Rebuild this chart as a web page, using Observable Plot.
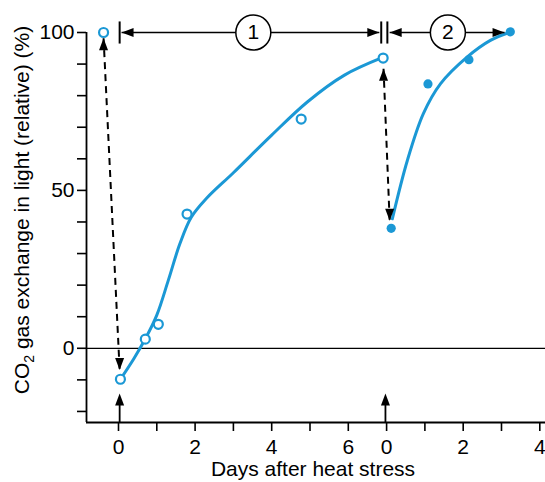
<!DOCTYPE html>
<html><head><meta charset="utf-8">
<script src="https://cdn.jsdelivr.net/npm/d3@7"></script>
<script src="https://cdn.jsdelivr.net/npm/@observablehq/plot@0.6"></script>
<style>
html,body{margin:0;padding:0;background:#fff;}
#chart{position:relative;width:545px;height:482px;overflow:hidden;}
</style></head><body><div id="chart"></div>
<script>
// ---- data (x: continuous day axis, phase 2 day d plotted at 7 + d) ----
const phase1X = [-0.39, 0.05, 0.70, 1.04, 1.79, 4.77, 6.91];
const phase1Y = [100, -9.8, 2.9, 7.6, 42.5, 72.6, 91.9];
const phase2X = [7.12, 8.08, 9.15, 10.23];
const phase2Y = [38, 83.7, 91.4, 100.2];
// fitted curves as drawn in the figure
const curve1X = [0.05, 0.4, 0.7, 1.0, 1.3, 1.6, 1.9, 2.3, 3.0, 4.0, 4.93, 5.9, 6.9];
const curve1Y = [-9.8, -3.3, 3, 10.5, 21.5, 33, 41.5, 47.5, 55.6, 67.5, 78, 86.5, 92.1];
const curve2X = [7.15, 7.54, 7.96, 8.41, 9.1, 9.71, 10.2];
const curve2Y = [41, 59.4, 74.3, 83.8, 92.2, 97.5, 100];
// ticks
const xTicks = [0,1,2,3,4,5,6,7,8,9,10,11];
const xTickLabels = ["0","","2","","4","","6","0","","2","","4"];
const yTicks = [-20,-10,0,10,20,30,40,50,60,70,80,90,100];
const yTickLabels = ["","","0","","","","","50","","","","","100"];
// annotations
const phaseNames = ["1","2"];
const phaseNameX = [3.52, 8.6];
const spanStart = [0.08, 7.08];
const spanEnd = [6.81, 10.08];
const spanY = 100;
const barX = [0.03, 6.86, 7.02];
const dashFromX = [-0.39, 6.92], dashFromY = [98.2, 88.5];
const dashToX = [0.03, 7.08], dashToY = [-6.9, 40.4];
const stressX = [0.03, 6.97];
const stressTipY = -14.3;
const xDomain = [-0.8355, 11.149];
const yDomain = [-23.5, 100];

const blue = "#1b98d5";
const mkHead = (rot) => ({draw(ctx){
  const pts = [[0,0],[-4.5,12],[4.5,12]].map(([x,y]) => {
    const a = rot*Math.PI/180;
    return [x*Math.cos(a) - y*Math.sin(a), x*Math.sin(a) + y*Math.cos(a)];
  });
  ctx.moveTo(pts[0][0],pts[0][1]); ctx.lineTo(pts[1][0],pts[1][1]); ctx.lineTo(pts[2][0],pts[2][1]); ctx.closePath();
}});
const headUp = mkHead(0), headDown = mkHead(180), headLeft = mkHead(-90), headRight = mkHead(90);

const xLab = new Map(xTicks.map((t,i)=>[t,xTickLabels[i]]));
const yLab = new Map(yTicks.map((t,i)=>[t,yTickLabels[i]]));
const idx = a => a.map((_,i)=>i);

const plot = Plot.plot({
  width: 545, height: 482,
  marginTop: 32, marginBottom: 60, marginLeft: 86, marginRight: 0,
  style: {fontFamily: "'Liberation Sans', Arial, sans-serif", fontSize: "21px", background: "white", overflow: "visible"},
  x: {domain: xDomain},
  y: {domain: yDomain},
  marks: [
    Plot.ruleY([0], {stroke: "black", strokeWidth: 1.2}),
    Plot.ruleY([yDomain[0]], {stroke: "black", strokeWidth: 1.8}),
    Plot.ruleX([xDomain[0]], {stroke: "black", strokeWidth: 1.8}),
    Plot.axisX({ticks: xTicks, tickFormat: d => xLab.get(d), tickSize: 9, tickPadding: 8, strokeWidth: 1.6, label: null, fill: "black"}),
    Plot.axisY({ticks: yTicks, tickFormat: d => yLab.get(d), tickSize: 9, tickPadding: 3, strokeWidth: 1.6, label: null, fill: "black"}),
    // fitted curves
    Plot.line(idx(curve1X), {x: i => curve1X[i], y: i => curve1Y[i], curve: "catmull-rom", stroke: blue, strokeWidth: 3}),
    Plot.line(idx(curve2X), {x: i => curve2X[i], y: i => curve2Y[i], curve: "catmull-rom", stroke: blue, strokeWidth: 3}),
    // dashed double arrows
    Plot.link(idx(dashFromX), {x1: i => dashFromX[i], y1: i => dashFromY[i], x2: i => dashToX[i], y2: i => dashToY[i], stroke: "black", strokeWidth: 2, strokeDasharray: "7,5"}),
    // heat stress arrows from axis
    Plot.link(idx(stressX), {x1: i => stressX[i], x2: i => stressX[i], y1: yDomain[0], y2: stressTipY - 3, stroke: "black", strokeWidth: 1.8}),
    // phase spans
    Plot.link(idx(spanStart), {x1: i => spanStart[i], x2: i => spanEnd[i], y1: spanY, y2: spanY, stroke: "black", strokeWidth: 1.6}),
    Plot.link(barX, {x1: d => d, x2: d => d, y1: spanY - 3.5, y2: spanY + 3.5, stroke: "black", strokeWidth: 2}),
    // arrowheads
    Plot.dot([...dashFromX.map((x,i)=>[x,dashFromY[i]]), ...stressX.map(x=>[x,stressTipY])], {x: d=>d[0], y: d=>d[1], symbol: headUp, fill: "black", stroke: "none", r: 5}),
    Plot.dot(dashToX.map((x,i)=>[x,dashToY[i]]), {x: d=>d[0], y: d=>d[1], symbol: headDown, fill: "black", stroke: "none", r: 5}),
    Plot.dot(spanStart, {x: d=>d, y: spanY, symbol: headLeft, fill: "black", stroke: "none", r: 5}),
    Plot.dot(spanEnd, {x: d=>d, y: spanY, symbol: headRight, fill: "black", stroke: "none", r: 5}),
    // phase labels
    Plot.dot(phaseNameX, {x: d=>d, y: spanY, r: 17.5, fill: "white", stroke: "black", strokeWidth: 1.5}),
    Plot.text(idx(phaseNames), {x: i => phaseNameX[i], y: spanY, text: i => phaseNames[i], fontSize: 21, fill: "black"}),
    // measured points
    Plot.dot(idx(phase1X), {x: i => phase1X[i], y: i => phase1Y[i], r: 4.5, fill: "white", stroke: blue, strokeWidth: 2.2}),
    Plot.dot(idx(phase2X), {x: i => phase2X[i], y: i => phase2Y[i], r: 4.6, fill: blue, stroke: "none"})
  ]
});
document.getElementById("chart").appendChild(plot);

// axis titles
const svg = d3.select(plot);
const yt = svg.append("text")
  .attr("transform", "translate(22,210) rotate(-90)")
  .attr("text-anchor", "middle").attr("dy", "0.35em")
  .attr("fill", "black").style("font-size", "21px");
yt.append("tspan").text("CO");
yt.append("tspan").text("2").style("font-size", "14px").attr("dy", "5");
yt.append("tspan").text(" gas exchange in light (relative) (%)").attr("dy", "-5");
svg.append("text")
  .attr("x", 313).attr("y", 476)
  .attr("text-anchor", "middle").attr("fill", "black").style("font-size", "21px")
  .text("Days after heat stress");
</script>
</body></html>
